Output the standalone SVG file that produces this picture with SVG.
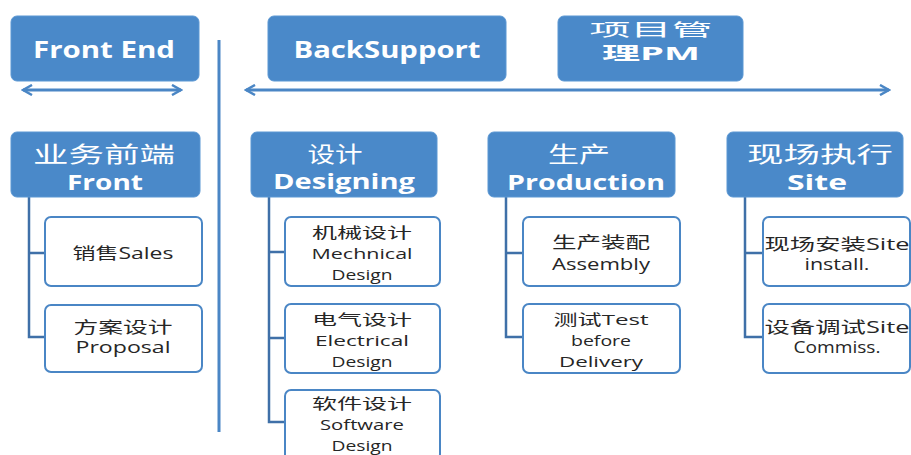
<svg xmlns="http://www.w3.org/2000/svg" width="911" height="455" viewBox="0 0 911 455">
<defs>
<style>
.hdr{fill:#4a89c9;stroke:#5b97d3;stroke-width:1}
.ch{fill:#ffffff;stroke:#4a86c5;stroke-width:2}
.ht{font-family:"Open Sans","Noto Sans CJK SC",sans-serif;font-weight:bold;fill:#ffffff;text-anchor:middle}
.hc{font-family:"Noto Sans CJK SC",sans-serif;font-weight:normal;fill:#ffffff;text-anchor:middle}
.ct{font-family:"Open Sans","Noto Sans CJK SC",sans-serif;font-size:16px;fill:#262626;text-anchor:middle}
.cc{font-family:"Noto Sans CJK SC",sans-serif;font-size:16px;fill:#262626;text-anchor:middle}
.t3{font-size:14.5px}
.con{fill:none;stroke:#3f70a8;stroke-width:2.5}
.arr{fill:none;stroke:#4a86c5;stroke-width:3}
</style>
<marker id="ah" viewBox="0 0 12 12" refX="10" refY="6" markerWidth="12" markerHeight="12" markerUnits="userSpaceOnUse" orient="auto-start-reverse">
<path d="M1,1 L10,6 L1,11" fill="none" stroke="#4a86c5" stroke-width="2.5"/>
</marker>
</defs>

<g id="connectors">
<line class="arr" x1="23" y1="90" x2="181" y2="90" marker-start="url(#ah)" marker-end="url(#ah)"/>
<line class="arr" x1="246" y1="90" x2="889" y2="90" marker-start="url(#ah)" marker-end="url(#ah)"/>
<line x1="219" y1="40" x2="219" y2="432" stroke="#4a86c5" stroke-width="3"/>
<path class="con" d="M29,197 V337 H45 M29,253 H45"/>
<path class="con" d="M269,197 V422 H285 M269,252 H285 M269,338 H285"/>
<path class="con" d="M506,197 V337 H523 M506,253 H523"/>
<path class="con" d="M745,197 V337 H763 M745,253 H763"/>
</g>

<g id="front-end">
<rect class="hdr" x="11" y="16" width="188" height="65" rx="6"/>
<text class="ht" x="104" y="58" font-size="24" textLength="142" lengthAdjust="spacingAndGlyphs">Front End</text>
</g>
<g id="backsupport">
<rect class="hdr" x="268" y="16" width="238" height="65" rx="6"/>
<text class="ht" x="387" y="58" font-size="24" textLength="187" lengthAdjust="spacingAndGlyphs">BackSupport</text>
</g>
<g id="pm">
<rect class="hdr" x="558" y="16" width="185" height="65" rx="6"/>
<text class="hc" x="651" y="36" font-size="17" textLength="123" lengthAdjust="spacingAndGlyphs">项目管</text>
<text class="ht" x="651" y="60" font-size="18" textLength="98" lengthAdjust="spacingAndGlyphs">理PM</text>
</g>

<g id="front">
<rect class="hdr" x="11" y="132" width="189" height="65" rx="6"/>
<text class="hc" x="104" y="162" font-size="22" textLength="142" lengthAdjust="spacingAndGlyphs">业务前端</text>
<text class="ht" x="105" y="190" font-size="21" textLength="76" lengthAdjust="spacingAndGlyphs">Front</text>
</g>
<g id="designing">
<rect class="hdr" x="251" y="132" width="186" height="65" rx="6"/>
<text class="hc" x="335" y="162" font-size="22" textLength="55" lengthAdjust="spacingAndGlyphs">设计</text>
<text class="ht" x="344" y="189" font-size="21" textLength="142" lengthAdjust="spacingAndGlyphs">Designing</text>
</g>
<g id="production">
<rect class="hdr" x="488" y="132" width="187" height="65" rx="6"/>
<text class="hc" x="579" y="162" font-size="22" textLength="62" lengthAdjust="spacingAndGlyphs">生产</text>
<text class="ht" x="586" y="190" font-size="21" textLength="158" lengthAdjust="spacingAndGlyphs">Production</text>
</g>
<g id="site">
<rect class="hdr" x="727" y="132" width="176" height="65" rx="6"/>
<text class="hc" x="820" y="162" font-size="22" textLength="146" lengthAdjust="spacingAndGlyphs">现场执行</text>
<text class="ht" x="817" y="190" font-size="21" textLength="60" lengthAdjust="spacingAndGlyphs">Site</text>
</g>

<g id="sales">
<rect class="ch" x="45" y="217" width="157" height="69" rx="6"/>
<text class="ct" x="123" y="259" textLength="101" lengthAdjust="spacingAndGlyphs">销售Sales</text>
</g>
<g id="proposal">
<rect class="ch" x="45" y="305" width="157" height="67" rx="6"/>
<text class="cc" x="123" y="333" textLength="99" lengthAdjust="spacingAndGlyphs">方案设计</text>
<text class="ct" x="123" y="353" textLength="95" lengthAdjust="spacingAndGlyphs">Proposal</text>
</g>

<g id="mechnical">
<rect class="ch" x="285" y="217" width="155" height="69" rx="6"/>
<text class="cc t3" x="362" y="238" textLength="100" lengthAdjust="spacingAndGlyphs">机械设计</text>
<text class="ct t3" x="362" y="259" textLength="101" lengthAdjust="spacingAndGlyphs">Mechnical</text>
<text class="ct t3" x="362" y="280" textLength="61" lengthAdjust="spacingAndGlyphs">Design</text>
</g>
<g id="electrical">
<rect class="ch" x="285" y="304" width="155" height="69" rx="6"/>
<text class="cc t3" x="362" y="325" textLength="100" lengthAdjust="spacingAndGlyphs">电气设计</text>
<text class="ct t3" x="362" y="346" textLength="94" lengthAdjust="spacingAndGlyphs">Electrical</text>
<text class="ct t3" x="362" y="367" textLength="61" lengthAdjust="spacingAndGlyphs">Design</text>
</g>
<g id="software">
<rect class="ch" x="285" y="390" width="155" height="70" rx="6"/>
<text class="cc t3" x="362" y="409" textLength="100" lengthAdjust="spacingAndGlyphs">软件设计</text>
<text class="ct t3" x="362" y="430" textLength="84" lengthAdjust="spacingAndGlyphs">Software</text>
<text class="ct t3" x="362" y="451" textLength="61" lengthAdjust="spacingAndGlyphs">Design</text>
</g>

<g id="assembly">
<rect class="ch" x="523" y="217" width="157" height="69" rx="6"/>
<text class="cc" x="601" y="248" textLength="98" lengthAdjust="spacingAndGlyphs">生产装配</text>
<text class="ct" x="601" y="270" textLength="98" lengthAdjust="spacingAndGlyphs">Assembly</text>
</g>
<g id="test">
<rect class="ch" x="523" y="304" width="157" height="69" rx="6"/>
<text class="ct t3" x="601" y="325" textLength="95" lengthAdjust="spacingAndGlyphs">测试Test</text>
<text class="ct t3" x="601" y="346" textLength="60" lengthAdjust="spacingAndGlyphs">before</text>
<text class="ct t3" x="601" y="367" textLength="84" lengthAdjust="spacingAndGlyphs">Delivery</text>
</g>

<g id="site-install">
<rect class="ch" x="763" y="217" width="147" height="69" rx="6"/>
<text class="ct" x="837" y="250" textLength="145" lengthAdjust="spacingAndGlyphs">现场安装Site</text>
<text class="ct" x="837" y="270" textLength="65" lengthAdjust="spacingAndGlyphs">install.</text>
</g>
<g id="site-commission">
<rect class="ch" x="763" y="304" width="147" height="69" rx="6"/>
<text class="ct" x="837" y="333" textLength="145" lengthAdjust="spacingAndGlyphs">设备调试Site</text>
<text class="ct" x="837" y="353" textLength="87" lengthAdjust="spacingAndGlyphs">Commiss.</text>
</g>
</svg>
